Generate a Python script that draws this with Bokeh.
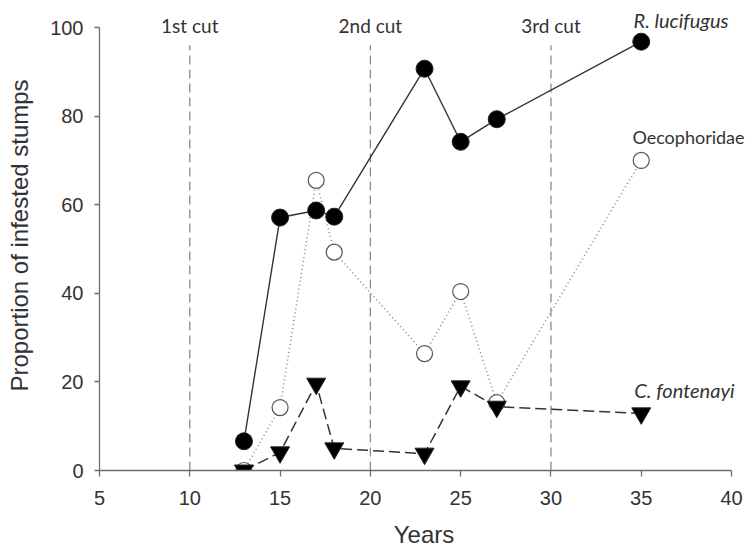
from bokeh.plotting import figure
from bokeh.models import Range1d, FixedTicker, Label
from bokeh.embed import file_html
from bokeh.resources import INLINE

# ---- data ----
years = [13, 15, 17, 18, 23, 25, 27, 35]
r_lucifugus = [6.6, 57.1, 58.7, 57.3, 90.7, 74.2, 79.3, 96.8]
oecophoridae = [0.0, 14.2, 65.5, 49.3, 26.4, 40.4, 15.3, 70.0]
c_fontenayi = [0.0, 4.1, 19.6, 5.0, 3.8, 19.0, 14.4, 12.9]

cut_years = [10, 20, 30]
cut_labels = ["1st cut", "2nd cut", "3rd cut"]

x_ticks = [5, 10, 15, 20, 25, 30, 35, 40]
y_ticks = [0, 20, 40, 60, 80, 100]

AXIS_FONT = "Liberation Sans"
NOTE_FONT = "Lato"

p = figure(width=748, height=550, x_range=Range1d(5, 40.94), y_range=Range1d(0, 106.1),
           output_backend="svg", toolbar_location=None,
           min_border_left=99, min_border_right=0, min_border_top=0, min_border_bottom=80)
p.outline_line_color = None
p.xgrid.visible = False
p.ygrid.visible = False
p.background_fill_color = "white"
p.border_fill_color = "white"

for ax in (p.xaxis[0], p.yaxis[0]):
    ax.axis_line_color = "#6e6e6e"
    ax.axis_line_width = 1.3
    ax.major_tick_line_color = "#6e6e6e"
    ax.major_tick_line_width = 1.3
    ax.minor_tick_line_color = None
    ax.major_tick_in = 0
    ax.major_label_text_font = AXIS_FONT
    ax.major_label_text_font_size = "20px"
    ax.major_label_text_color = "#333333"
    ax.axis_label_text_font = AXIS_FONT
    ax.axis_label_text_font_size = "24px"
    ax.axis_label_text_font_style = "normal"
    ax.axis_label_text_color = "#333333"

p.xaxis.ticker = FixedTicker(ticks=x_ticks)
p.yaxis.ticker = FixedTicker(ticks=y_ticks)
p.xaxis.bounds = (5, 40)
p.yaxis.bounds = (0, 100)
p.xaxis.major_tick_out = 6
p.yaxis.major_tick_out = 5
p.xaxis.major_label_standoff = 14
p.yaxis.major_label_standoff = 11
p.xaxis.axis_label = "Years"
p.yaxis.axis_label = "Proportion of infested stumps"
p.xaxis.axis_label_standoff = 13
p.yaxis.axis_label_standoff = 14

# cut lines
p.segment(x0=cut_years, y0=0, x1=cut_years, y1=96, line_color="#8a8a8a",
          line_width=1.3, line_dash="9 5")

# series
p.line(years, r_lucifugus, line_color="#333333", line_width=1.4)
p.line(years, oecophoridae, line_color="#8a8a8a", line_width=1.6, line_dash="1 3")
p.line(years, c_fontenayi, line_color="#333333", line_width=1.5, line_dash="11 5")

p.scatter(years, r_lucifugus, marker="circle", size=17, fill_color="black",
          line_color="#222222", line_width=1)
p.scatter(years, oecophoridae, marker="circle", size=16, fill_color="white",
          line_color="#555555", line_width=1.2)
p.scatter(years, c_fontenayi, marker="inverted_triangle", size=19, fill_color="black",
          line_color="#222222", line_width=1)

# annotations
for cx, lab in zip(cut_years, cut_labels):
    p.add_layout(Label(x=cx, y=100.45, text=lab, text_align="center", text_baseline="middle",
                       text_font=NOTE_FONT, text_font_size="19px", text_color="#333333"))

p.add_layout(Label(x=34.57, y=101.6, text="R. lucifugus", text_align="left",
                   text_baseline="middle", text_font=NOTE_FONT, text_font_size="20px",
                   text_font_style="italic", text_color="#333333"))
p.add_layout(Label(x=34.51, y=75.2, text="Oecophoridae", text_align="left",
                   text_baseline="middle", text_font=NOTE_FONT, text_font_size="18px",
                   text_color="#333333"))
p.add_layout(Label(x=34.62, y=18.06, text="C. fontenayi", text_align="left",
                   text_baseline="middle", text_font=NOTE_FONT, text_font_size="20px",
                   text_font_style="italic", text_color="#333333"))

open("out.html", "w").write(file_html(p, INLINE))
